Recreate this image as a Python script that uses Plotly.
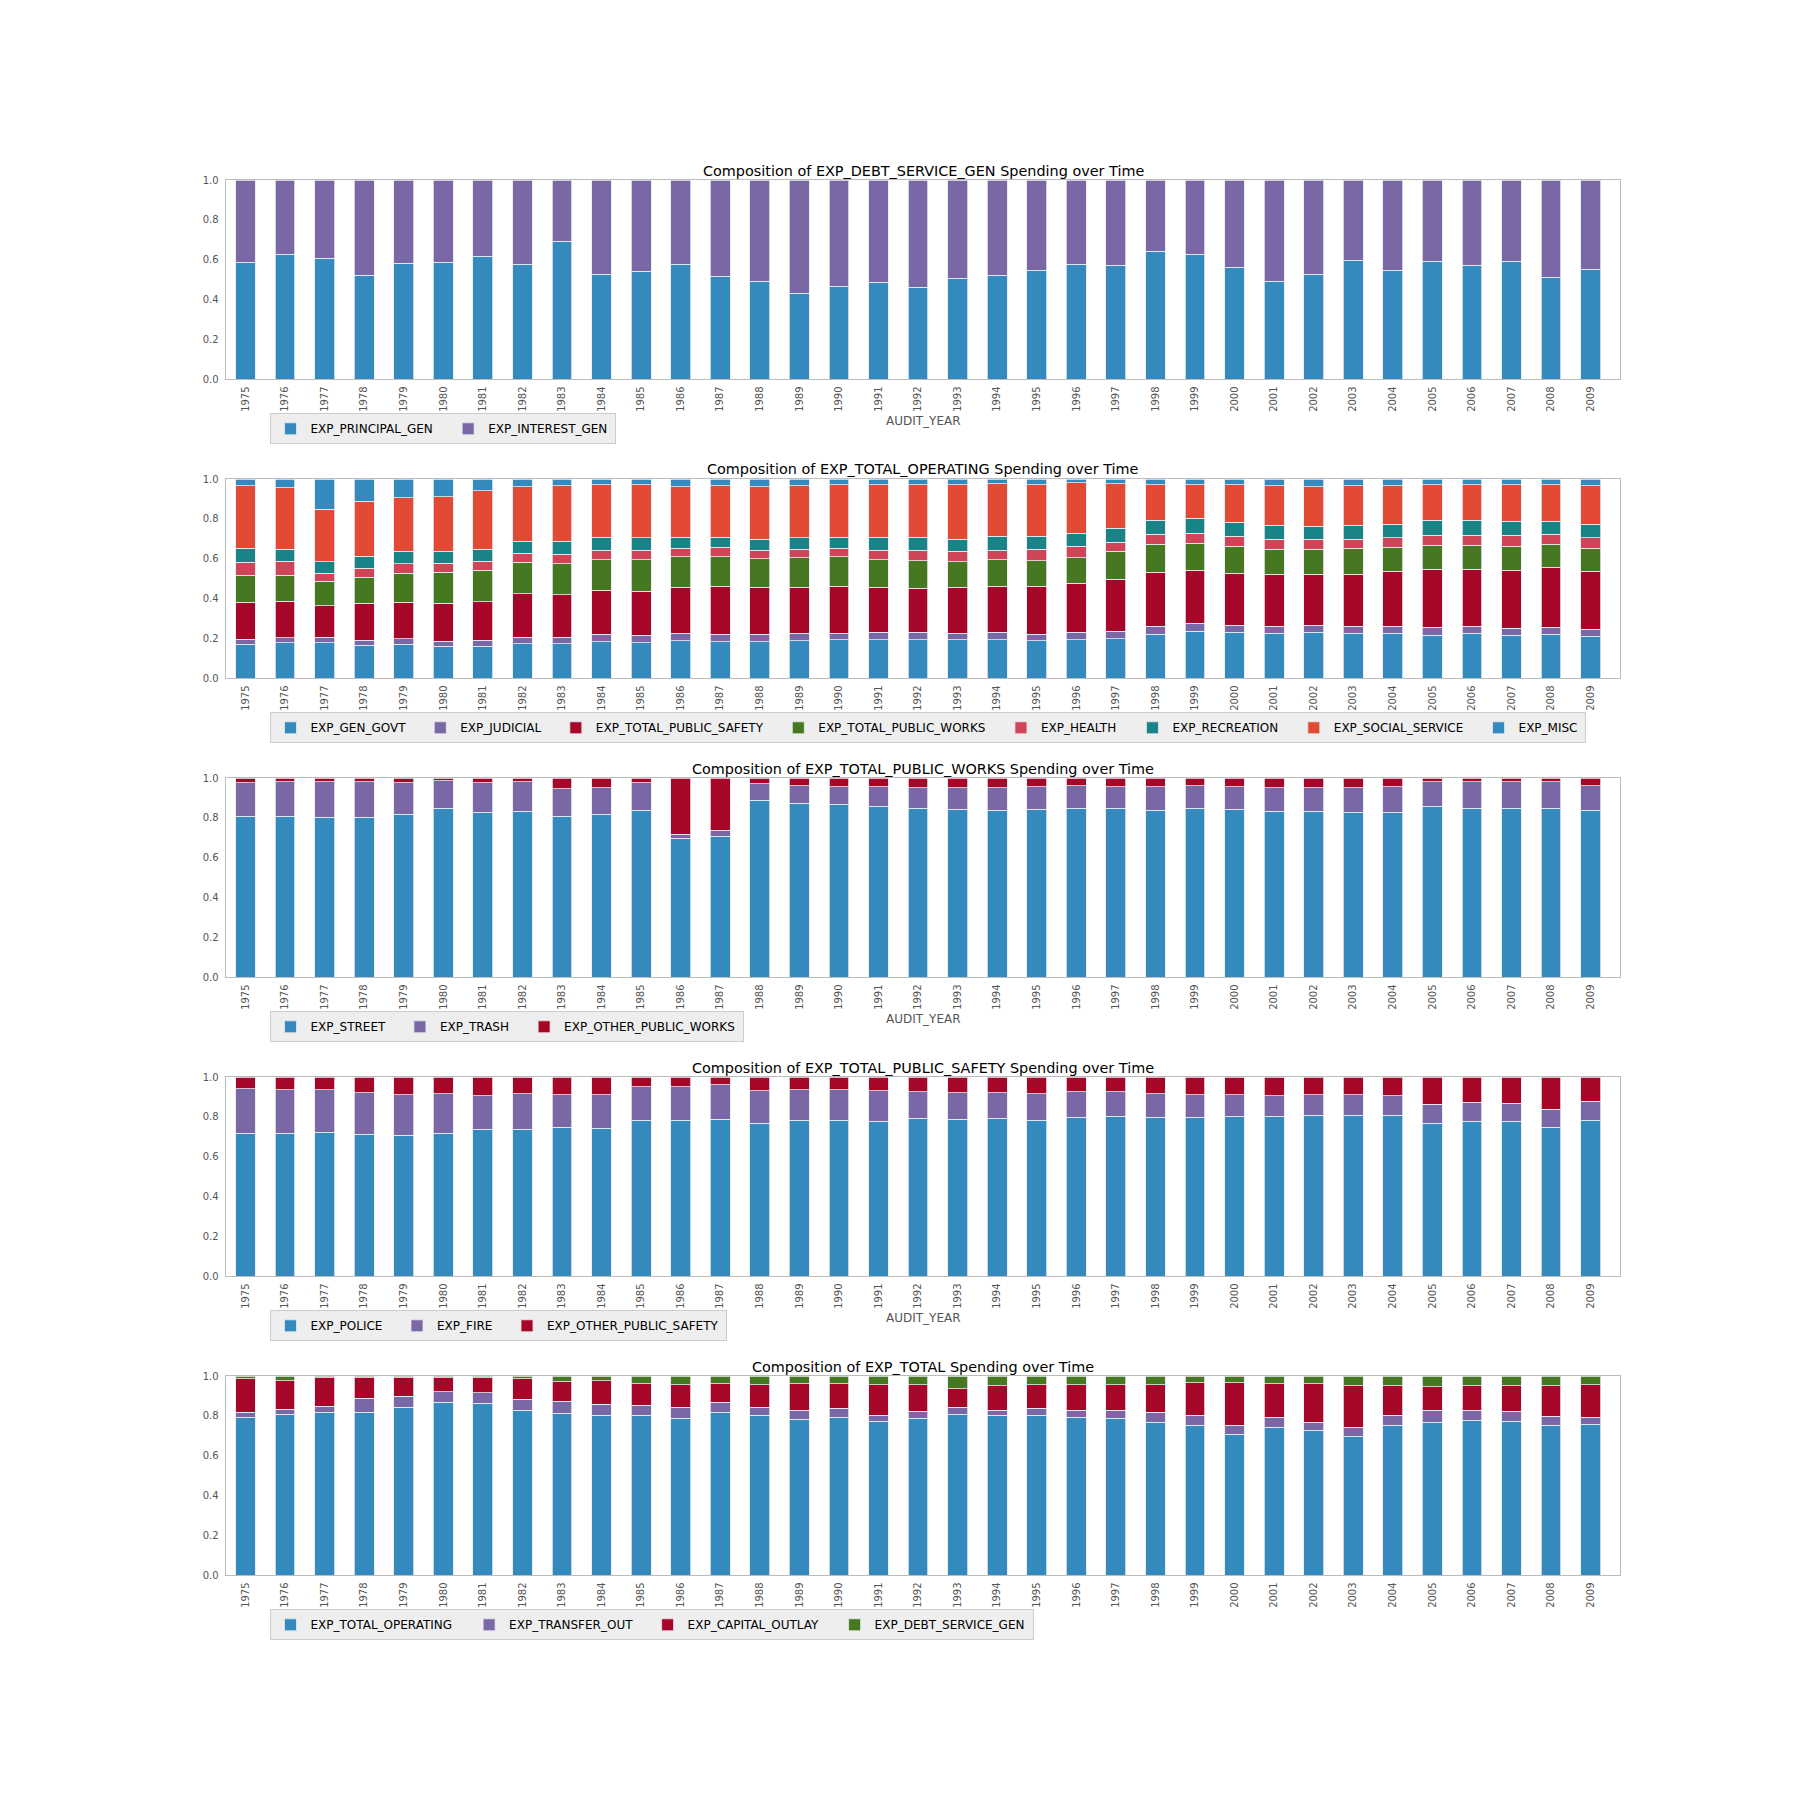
import plotly.graph_objects as go

# ---------------- data ----------------
years = ["1975", "1976", "1977", "1978", "1979", "1980", "1981", "1982", "1983", "1984",
         "1985", "1986", "1987", "1988", "1989", "1990", "1991", "1992", "1993", "1994",
         "1995", "1996", "1997", "1998", "1999", "2000", "2001", "2002", "2003", "2004",
         "2005", "2006", "2007", "2008", "2009"]

# Panel 1: EXP_DEBT_SERVICE_GEN
exp_principal_gen = [0.588, 0.628, 0.608, 0.523, 0.583, 0.588, 0.618, 0.578, 0.693, 0.528,
                     0.543, 0.578, 0.518, 0.492, 0.432, 0.467, 0.487, 0.462, 0.508, 0.523,
                     0.548, 0.578, 0.573, 0.643, 0.628, 0.563, 0.492, 0.528, 0.598, 0.548,
                     0.593, 0.573, 0.593, 0.513, 0.553]
exp_interest_gen = [0.412, 0.372, 0.392, 0.477, 0.417, 0.412, 0.382, 0.422, 0.307, 0.472,
                    0.457, 0.422, 0.482, 0.508, 0.568, 0.533, 0.513, 0.538, 0.492, 0.477,
                    0.452, 0.422, 0.427, 0.357, 0.372, 0.437, 0.508, 0.472, 0.402, 0.452,
                    0.407, 0.427, 0.407, 0.487, 0.447]

# Panel 2: EXP_TOTAL_OPERATING
exp_gen_govt = [0.171, 0.179, 0.179, 0.166, 0.171, 0.161, 0.161, 0.174, 0.174, 0.184,
                0.179, 0.189, 0.184, 0.184, 0.189, 0.194, 0.194, 0.194, 0.194, 0.194,
                0.189, 0.194, 0.199, 0.221, 0.236, 0.231, 0.226, 0.231, 0.226, 0.226,
                0.216, 0.226, 0.216, 0.221, 0.211]
exp_judicial = [0.025, 0.024, 0.027, 0.025, 0.027, 0.025, 0.030, 0.032, 0.032, 0.037,
                0.037, 0.037, 0.037, 0.037, 0.037, 0.032, 0.037, 0.037, 0.032, 0.037,
                0.032, 0.037, 0.037, 0.040, 0.040, 0.035, 0.035, 0.035, 0.035, 0.035,
                0.040, 0.035, 0.035, 0.035, 0.035]
exp_total_public_safety = [0.186, 0.184, 0.159, 0.186, 0.184, 0.191, 0.194, 0.219, 0.214, 0.221,
                           0.220, 0.230, 0.240, 0.235, 0.230, 0.235, 0.225, 0.220, 0.230, 0.230,
                           0.240, 0.245, 0.260, 0.272, 0.267, 0.262, 0.262, 0.257, 0.262, 0.277,
                           0.292, 0.287, 0.292, 0.302, 0.292]
exp_total_public_works = [0.136, 0.129, 0.121, 0.129, 0.146, 0.156, 0.156, 0.158, 0.156, 0.154,
                          0.160, 0.155, 0.150, 0.145, 0.150, 0.150, 0.140, 0.140, 0.130, 0.135,
                          0.130, 0.130, 0.141, 0.140, 0.135, 0.135, 0.125, 0.125, 0.130, 0.120,
                          0.120, 0.120, 0.120, 0.115, 0.115]
exp_health = [0.065, 0.072, 0.042, 0.047, 0.047, 0.045, 0.047, 0.045, 0.047, 0.047,
              0.047, 0.042, 0.046, 0.042, 0.042, 0.042, 0.047, 0.052, 0.051, 0.047,
              0.056, 0.057, 0.046, 0.051, 0.051, 0.051, 0.050, 0.050, 0.045, 0.046,
              0.051, 0.051, 0.056, 0.051, 0.051]
exp_recreation = [0.070, 0.060, 0.058, 0.060, 0.062, 0.059, 0.059, 0.059, 0.064, 0.066,
                  0.061, 0.056, 0.052, 0.055, 0.056, 0.056, 0.066, 0.066, 0.061, 0.071,
                  0.067, 0.066, 0.071, 0.070, 0.075, 0.070, 0.071, 0.066, 0.071, 0.070,
                  0.075, 0.075, 0.070, 0.065, 0.070]
exp_social_service = [0.312, 0.307, 0.263, 0.276, 0.268, 0.273, 0.293, 0.273, 0.278, 0.261,
                      0.266, 0.251, 0.256, 0.262, 0.261, 0.261, 0.261, 0.261, 0.272, 0.261,
                      0.256, 0.251, 0.221, 0.176, 0.166, 0.186, 0.196, 0.196, 0.196, 0.191,
                      0.176, 0.176, 0.181, 0.181, 0.191]
exp_misc = [0.035, 0.045, 0.151, 0.111, 0.095, 0.090, 0.060, 0.040, 0.035, 0.030,
            0.030, 0.040, 0.035, 0.040, 0.035, 0.030, 0.030, 0.030, 0.030, 0.025,
            0.030, 0.020, 0.025, 0.030, 0.030, 0.030, 0.035, 0.040, 0.035, 0.035,
            0.030, 0.030, 0.030, 0.030, 0.035]

# Panel 3: EXP_TOTAL_PUBLIC_WORKS
exp_street = [0.809, 0.809, 0.804, 0.804, 0.819, 0.849, 0.829, 0.834, 0.809, 0.819,
              0.839, 0.698, 0.709, 0.889, 0.874, 0.869, 0.859, 0.849, 0.844, 0.839,
              0.844, 0.849, 0.849, 0.839, 0.849, 0.844, 0.834, 0.834, 0.829, 0.829,
              0.859, 0.849, 0.849, 0.849, 0.839]
exp_trash = [0.166, 0.171, 0.176, 0.176, 0.156, 0.138, 0.146, 0.146, 0.136, 0.131,
             0.136, 0.021, 0.030, 0.081, 0.086, 0.086, 0.096, 0.101, 0.106, 0.111,
             0.111, 0.111, 0.106, 0.116, 0.111, 0.111, 0.116, 0.116, 0.121, 0.126,
             0.121, 0.131, 0.131, 0.131, 0.121]
exp_other_public_works = [0.025, 0.020, 0.020, 0.020, 0.025, 0.013, 0.025, 0.020, 0.055, 0.050,
                          0.025, 0.281, 0.261, 0.030, 0.040, 0.045, 0.045, 0.050, 0.050, 0.050,
                          0.045, 0.040, 0.045, 0.045, 0.040, 0.045, 0.050, 0.050, 0.050, 0.045,
                          0.020, 0.020, 0.020, 0.020, 0.040]

# Panel 4: EXP_TOTAL_PUBLIC_SAFETY
exp_police = [0.719, 0.719, 0.724, 0.714, 0.709, 0.719, 0.739, 0.739, 0.749, 0.744,
              0.784, 0.784, 0.789, 0.769, 0.784, 0.784, 0.779, 0.794, 0.789, 0.794,
              0.784, 0.799, 0.804, 0.799, 0.799, 0.804, 0.804, 0.809, 0.809, 0.809,
              0.769, 0.779, 0.779, 0.749, 0.784]
exp_fire = [0.221, 0.216, 0.211, 0.206, 0.201, 0.196, 0.166, 0.176, 0.161, 0.166,
            0.166, 0.166, 0.171, 0.161, 0.151, 0.151, 0.151, 0.131, 0.131, 0.126,
            0.131, 0.126, 0.121, 0.116, 0.111, 0.106, 0.101, 0.101, 0.101, 0.096,
            0.095, 0.095, 0.090, 0.090, 0.095]
exp_other_public_safety = [0.060, 0.065, 0.065, 0.080, 0.090, 0.085, 0.095, 0.085, 0.090, 0.090,
                           0.050, 0.050, 0.040, 0.070, 0.065, 0.065, 0.070, 0.075, 0.080, 0.080,
                           0.085, 0.075, 0.075, 0.085, 0.090, 0.090, 0.095, 0.090, 0.090, 0.095,
                           0.136, 0.126, 0.131, 0.161, 0.121]

# Panel 5: EXP_TOTAL
exp_total_operating = [0.794, 0.809, 0.819, 0.819, 0.844, 0.869, 0.864, 0.829, 0.814, 0.804,
                       0.804, 0.789, 0.819, 0.804, 0.784, 0.794, 0.774, 0.789, 0.809, 0.804,
                       0.804, 0.794, 0.789, 0.769, 0.754, 0.709, 0.744, 0.729, 0.698, 0.754,
                       0.769, 0.779, 0.774, 0.754, 0.759]
exp_transfer_out = [0.025, 0.025, 0.030, 0.070, 0.055, 0.051, 0.051, 0.055, 0.060, 0.055,
                    0.050, 0.055, 0.050, 0.040, 0.045, 0.045, 0.030, 0.035, 0.035, 0.025,
                    0.035, 0.035, 0.040, 0.050, 0.050, 0.045, 0.050, 0.040, 0.046, 0.050,
                    0.060, 0.050, 0.050, 0.045, 0.035]
exp_capital_outlay = [0.166, 0.141, 0.141, 0.101, 0.091, 0.070, 0.075, 0.101, 0.096, 0.116,
                      0.106, 0.111, 0.091, 0.111, 0.131, 0.121, 0.151, 0.131, 0.091, 0.121,
                      0.116, 0.126, 0.126, 0.136, 0.161, 0.211, 0.166, 0.191, 0.206, 0.146,
                      0.116, 0.121, 0.126, 0.151, 0.161]
exp_debt_service_gen = [0.015, 0.025, 0.010, 0.010, 0.010, 0.010, 0.010, 0.015, 0.030, 0.025,
                        0.040, 0.045, 0.040, 0.045, 0.040, 0.040, 0.045, 0.045, 0.065, 0.050,
                        0.045, 0.045, 0.045, 0.045, 0.035, 0.035, 0.040, 0.040, 0.050, 0.050,
                        0.055, 0.050, 0.050, 0.050, 0.045]

y_tick_vals = [0.0, 0.2, 0.4, 0.6, 0.8, 1.0]

# ---------------- styling ----------------
BLUE, PURPLE, RED, GREEN = "#348ABD", "#7A68A6", "#A60628", "#467821"
PINK, TEAL, ORANGE = "#CF4457", "#188487", "#E24A33"
FONT = "DejaVu Sans"
W = H = 1800
X0, X1 = 225.7, 1620.3
TOPS = [180.0, 479.0, 778.0, 1077.0, 1376.0]
PH = 199.3

TITLE_FS = 14.4
LEG_FS = 12.0
TICK_FS = 10.0
LABEL_FS = 12.0

panels = [
    dict(title="Composition of EXP_DEBT_SERVICE_GEN Spending over Time",
         series=[("EXP_PRINCIPAL_GEN", exp_principal_gen, BLUE),
                 ("EXP_INTEREST_GEN", exp_interest_gen, PURPLE)], xlabel=True),
    dict(title="Composition of EXP_TOTAL_OPERATING Spending over Time",
         series=[("EXP_GEN_GOVT", exp_gen_govt, BLUE),
                 ("EXP_JUDICIAL", exp_judicial, PURPLE),
                 ("EXP_TOTAL_PUBLIC_SAFETY", exp_total_public_safety, RED),
                 ("EXP_TOTAL_PUBLIC_WORKS", exp_total_public_works, GREEN),
                 ("EXP_HEALTH", exp_health, PINK),
                 ("EXP_RECREATION", exp_recreation, TEAL),
                 ("EXP_SOCIAL_SERVICE", exp_social_service, ORANGE),
                 ("EXP_MISC", exp_misc, BLUE)], xlabel=False),
    dict(title="Composition of EXP_TOTAL_PUBLIC_WORKS Spending over Time",
         series=[("EXP_STREET", exp_street, BLUE),
                 ("EXP_TRASH", exp_trash, PURPLE),
                 ("EXP_OTHER_PUBLIC_WORKS", exp_other_public_works, RED)], xlabel=True),
    dict(title="Composition of EXP_TOTAL_PUBLIC_SAFETY Spending over Time",
         series=[("EXP_POLICE", exp_police, BLUE),
                 ("EXP_FIRE", exp_fire, PURPLE),
                 ("EXP_OTHER_PUBLIC_SAFETY", exp_other_public_safety, RED)], xlabel=True),
    dict(title="Composition of EXP_TOTAL Spending over Time",
         series=[("EXP_TOTAL_OPERATING", exp_total_operating, BLUE),
                 ("EXP_TRANSFER_OUT", exp_transfer_out, PURPLE),
                 ("EXP_CAPITAL_OUTLAY", exp_capital_outlay, RED),
                 ("EXP_DEBT_SERVICE_GEN", exp_debt_service_gen, GREEN)], xlabel=False),
]

# approximate DejaVu Sans advance widths (em) to mimic matplotlib legend spacing
CW = dict(A=.684, B=.686, C=.698, D=.770, E=.632, F=.575, G=.775, H=.752, I=.295, J=.295,
          K=.656, L=.557, M=.863, N=.748, O=.787, P=.603, Q=.787, R=.695, S=.635, T=.611,
          U=.732, V=.684, W=.989, X=.685, Y=.611, Z=.685, _=.5)


def text_w(s, fs):
    return sum(CW.get(c, 0.6) for c in s) * fs


def py(px):
    return 1 - px / H


fig = go.Figure()
layout = dict(width=W, height=H, margin=dict(l=0, r=0, t=0, b=0, autoexpand=False),
              paper_bgcolor="white", plot_bgcolor="white",
              barmode="stack", bargap=0.5, font=dict(family=FONT),
              annotations=[])

for i, p in enumerate(panels):
    k = "" if i == 0 else str(i + 1)
    top = TOPS[i]
    bot = top + PH
    leg = "legend" + k
    n = len(p["series"])
    for j, (name, vals, col) in enumerate(p["series"]):
        if j < n - 1:
            lw = text_w(name, LEG_FS) + 4.8 * LEG_FS - 48
        else:
            lw = text_w(name, LEG_FS) + 2
        fig.add_trace(go.Bar(
            x=years, y=vals, name=name, xaxis="x" + k, yaxis="y" + k, legend=leg,
            marker=dict(color=col, line=dict(color="#e8e8f0", width=0.8)),
            legendwidth=lw,
        ))
    layout["xaxis" + k] = dict(
        domain=[X0 / W, X1 / W], anchor="y" + k, type="category",
        range=[-0.5, 34.75], tickangle=-90, showgrid=False, zeroline=False,
        showline=True, mirror=True, linecolor="#bcbcbc", linewidth=1.2, ticks="",
        tickfont=dict(family=FONT, size=TICK_FS, color="#555555"), ticklabelstandoff=2,
    )
    layout["yaxis" + k] = dict(
        domain=[py(bot), py(top)], anchor="x" + k, range=[0, 1],
        tickvals=y_tick_vals, tickformat=".1f", showgrid=False, zeroline=False,
        showline=True, mirror=True, linecolor="#bcbcbc", linewidth=1.2, ticks="",
        tickfont=dict(family=FONT, size=TICK_FS, color="#555555"), ticklabelstandoff=4,
    )
    layout[leg] = dict(
        orientation="h", x=269.5 / W, xanchor="left", y=py(bot + 34), yanchor="top",
        bgcolor="#eeeeee", bordercolor="#cccccc", borderwidth=1,
        font=dict(family=FONT, size=LEG_FS, color="black"), traceorder="normal",
    )
    layout["annotations"].append(dict(
        text=p["title"], x=(X0 + X1) / 2 / W, y=py(top - 9.5), xref="paper", yref="paper",
        xanchor="center", yanchor="middle", showarrow=False,
        font=dict(family=FONT, size=TITLE_FS, color="black"),
    ))
    if p["xlabel"]:
        layout["annotations"].append(dict(
            text="AUDIT_YEAR", x=(X0 + X1) / 2 / W, y=py(bot + 41.4), xref="paper",
            yref="paper", xanchor="center", yanchor="middle", showarrow=False,
            font=dict(family=FONT, size=LABEL_FS, color="#555555"),
        ))

fig.update_layout(**layout)
fig.write_html("out.html")
